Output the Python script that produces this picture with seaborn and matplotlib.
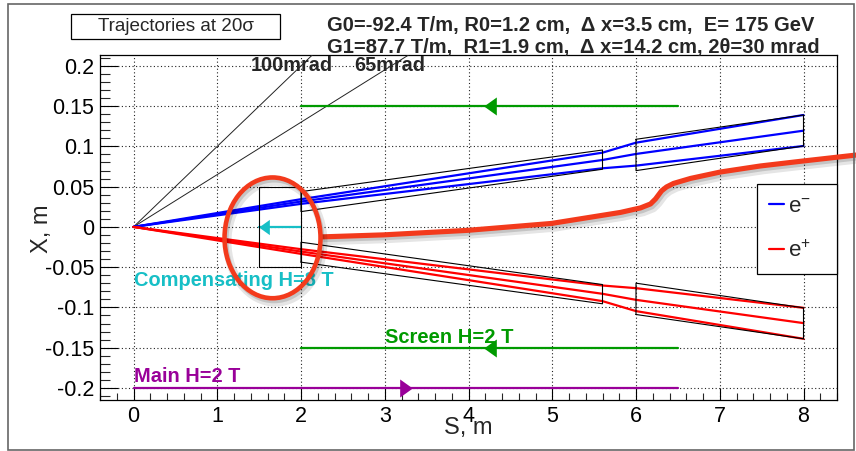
import numpy as np
import pandas as pd
import matplotlib
matplotlib.use("Agg")
import matplotlib.pyplot as plt
import seaborn as sns
import matplotlib.patheffects as pe
from matplotlib.patches import Ellipse, Rectangle
from matplotlib.lines import Line2D
from matplotlib.ticker import MultipleLocator, FuncFormatter

# ---------------- data ----------------
s_nodes = [0.0, 2.0, 5.6, 6.0, 8.0]          # S (m) where trajectories were read
em_upper = [0.0, 0.0344, 0.0922, 0.1046, 0.139]
em_mid = [0.0, 0.0315, 0.0831, 0.0906, 0.1195]
em_lower = [0.0, 0.0286, 0.0728, 0.0761, 0.1005]
ep_upper = [0.0, -0.0277, -0.0728, -0.0761, -0.1005]
ep_mid = [0.0, -0.0306, -0.0831, -0.0906, -0.1195]
ep_lower = [0.0, -0.0335, -0.0922, -0.1046, -0.139]

# magnet outlines (S, X corners)
comp_s = [1.5, 2.0, 2.0, 1.5, 1.5]
comp_x = [0.05, 0.05, -0.05, -0.05, 0.05]
q1u_s = [2.0, 5.6, 5.6, 2.0, 2.0]
q1u_x = [0.0438, 0.0955, 0.0716, 0.019, 0.0438]
q2u_s = [6.0, 8.0, 8.0, 6.0, 6.0]
q2u_x = [0.1088, 0.139, 0.1005, 0.0699, 0.1088]
q1d_s = [2.0, 5.6, 5.6, 2.0, 2.0]
q1d_x = [-0.0438, -0.0955, -0.0716, -0.019, -0.0438]
q2d_s = [6.0, 8.0, 8.0, 6.0, 6.0]
q2d_x = [-0.1088, -0.139, -0.1005, -0.0699, -0.1088]

# angle reference lines (slopes in rad)
angle_slopes = [0.100, 0.065]
angle_labels = ["100mrad", "65mrad"]
angle_label_s = [1.40, 2.64]

# field regions: (s_start, s_end, x, arrow_s, direction)
screen_top = (2.0, 6.5, 0.15, 4.26, "left")
screen_bot = (2.0, 6.5, -0.15, 4.26, "left")
main_field = (0.0, 6.5, -0.20, 3.25, "right")
comp_field = (2.0, 1.5, 0.0, 1.56, "left")

# highlight annotation (hand-drawn overlay)
hl_s = [2.245, 2.985, 3.988, 4.991, 5.815, 6.054, 6.173, 6.233, 6.269, 6.305,
        6.364, 6.448, 6.651, 7.009, 7.487, 8.0, 8.633]
hl_x = [-0.0124, -0.0099, -0.0043, 0.0043, 0.0180, 0.0236, 0.0285, 0.0347,
        0.0397, 0.0447, 0.0496, 0.0540, 0.0602, 0.0682, 0.0757, 0.0819, 0.0893]
ell_center = (1.66, -0.0136)
ell_w, ell_h = 1.146, 0.150

# ---------------- styling ----------------
sns.set_theme(style="white")
plt.rcParams["font.family"] = ["Liberation Sans", "DejaVu Sans"]
plt.rcParams["mathtext.fontset"] = "custom"
plt.rcParams["mathtext.rm"] = "Liberation Sans"
plt.rcParams["axes.unicode_minus"] = False

BLUE = "#0000ff"
RED = "#ff0000"
GREEN = "#009a00"
PURPLE = "#990099"
CYAN = "#17bfc6"
HL = "#f33a1c"

W, H = 856, 451
fig = plt.figure(figsize=(W / 100, H / 100), dpi=100)
ax = fig.add_axes([100 / W, 1 - 400 / H, 737 / W, 345 / H])
ax.set_xlim(-0.4, 8.4)
ax.set_ylim(-0.215, 0.2135)

# grid
ax.grid(True, which="major", color="#222222", linestyle=(0, (1, 2.2)), linewidth=0.8)
ax.set_axisbelow(True)

# trajectories via seaborn
rows = []
tracks = {"e-": [em_upper, em_mid, em_lower], "e+": [ep_upper, ep_mid, ep_lower]}
for p, lst in tracks.items():
    for i, xs in enumerate(lst):
        for s, x in zip(s_nodes, xs):
            rows.append({"particle": p, "track": f"{p}{i}", "S": s, "X": x})
df = pd.DataFrame(rows)
sns.lineplot(data=df, x="S", y="X", hue="particle", units="track", estimator=None,
             sort=False, palette={"e-": BLUE, "e+": RED}, linewidth=1.6,
             legend=False, ax=ax, zorder=4)

# magnet outlines
for bs, bx in [(comp_s, comp_x), (q1u_s, q1u_x), (q2u_s, q2u_x), (q1d_s, q1d_x), (q2d_s, q2d_x)]:
    ax.plot(bs, bx, color="black", lw=0.8, zorder=5)

# angle lines
for slope, lab, ls in zip(angle_slopes, angle_labels, angle_label_s):
    ss = np.array([0.0, 4.0])
    ax.plot(ss, slope * ss, color="#222222", lw=0.7, zorder=3)
    ax.text(ls, 0.2, lab, fontsize=14.3, fontweight="bold", ha="left", va="center", zorder=6)

# field lines with arrowheads
left_head = [(-0.35, 0), (0.35, 0.5), (0.35, -0.5), (-0.35, 0)]
right_head = [(0.35, 0), (-0.35, 0.5), (-0.35, -0.5), (0.35, 0)]
for (s0, s1, x0, sa, d), col, ms in [(screen_top, GREEN, 13), (screen_bot, GREEN, 13),
                                   (main_field, PURPLE, 13), (comp_field, CYAN, 11)]:
    ax.plot([s0, s1], [x0, x0], color=col, lw=1.6, zorder=4)
    ax.plot([sa], [x0], marker=left_head if d == "left" else right_head,
            color=col, markersize=ms, markeredgewidth=0, linestyle="none", zorder=4)

ax.text(0.0, -0.066, "Compensating H=8 T", color=CYAN, fontsize=14.4,
        fontweight="bold", ha="left", va="center", zorder=6)
ax.text(3.0, -0.137, "Screen H=2 T", color=GREEN, fontsize=14.5,
        fontweight="bold", ha="left", va="center", zorder=6)
ax.text(0.0, -0.186, "Main H=2 T", color=PURPLE, fontsize=14.4,
        fontweight="bold", ha="left", va="center", zorder=6)

# axes / ticks
ax.xaxis.set_major_locator(MultipleLocator(1))
ax.xaxis.set_minor_locator(MultipleLocator(0.2))
ax.yaxis.set_major_locator(MultipleLocator(0.05))
ax.yaxis.set_minor_locator(MultipleLocator(0.01))
ax.xaxis.set_major_formatter(FuncFormatter(lambda v, p: f"{v:g}"))
ax.yaxis.set_major_formatter(FuncFormatter(lambda v, p: f"{round(v, 3):g}"))
ax.tick_params(axis="y", which="major", direction="in", length=13, width=0.8,
               labelsize=15.5, pad=4, left=True, right=False, colors="black")
ax.tick_params(axis="y", which="minor", direction="in", length=7, width=0.8, left=True, right=False)
ax.tick_params(axis="x", which="major", direction="in", length=8.6, width=0.8,
               labelsize=15.5, pad=4, bottom=True, top=False, colors="black")
ax.tick_params(axis="x", which="minor", direction="in", length=5, width=0.8, bottom=True, top=False)
for sp in ax.spines.values():
    sp.set_color("black")
    sp.set_linewidth(0.9)

ax.set_xlabel("S, m", fontsize=17, va="center")
ax.xaxis.set_label_coords(0.5, -0.08)
ax.set_ylabel("X, m", fontsize=17, va="center")
ax.yaxis.set_label_coords(-0.079, 0.496)

# legend
handles = [Line2D([], [], color=BLUE, lw=1.6), Line2D([], [], color=RED, lw=1.6)]
leg = ax.legend(handles, [r"$\mathrm{e}^{-}$", r"$\mathrm{e}^{+}$"], loc="upper left",
                bbox_to_anchor=(0.891, 0.626, 0.109, 0.0), mode="expand",
                fontsize=16, handlelength=0.7, handletextpad=0.15, borderaxespad=0,
                borderpad=0.55, labelspacing=1.05, frameon=True, fancybox=False,
                edgecolor="black", framealpha=1)
leg.get_frame().set_linewidth(0.9)
leg.set_zorder(7)

# highlight overlay
def shadow_fx():
    return [pe.SimpleLineShadow(offset=(2.0, -3.0), shadow_color="black", alpha=0.10, linewidth=6),
            pe.SimpleLineShadow(offset=(1.2, -2.0), shadow_color="black", alpha=0.14),
            pe.Normal()]

ax.plot(hl_s, hl_x, color=HL, lw=3.7, solid_capstyle="butt", solid_joinstyle="round",
        clip_on=False, zorder=10, path_effects=shadow_fx())
ell = Ellipse(ell_center, ell_w, ell_h, fill=False, edgecolor=HL, lw=3.3, zorder=10,
              clip_on=False, path_effects=shadow_fx())
ax.add_patch(ell)

# header texts
fig.add_artist(Rectangle((71 / W, 1 - 39 / H), 209 / W, 25 / H, transform=fig.transFigure,
                         fill=False, edgecolor="black", lw=0.9))
fig.text(175.5 / W, 1 - 26.5 / H, "Trajectories at 20σ", fontsize=13.6, ha="center", va="center")
fig.text(327 / W, 1 - 25 / H, "G0=-92.4 T/m, R0=1.2 cm,  Δ x=3.5 cm,  E= 175 GeV",
         fontsize=14.5, fontweight="bold", ha="left", va="center")
fig.text(327 / W, 1 - 47 / H, "G1=87.7 T/m,  R1=1.9 cm,  Δ x=14.2 cm, 2θ=30 mrad",
         fontsize=14.5, fontweight="bold", ha="left", va="center")

# canvas frame
fig.add_artist(Rectangle((8 / W, 1 - 450 / H), 846 / W, 446 / H, transform=fig.transFigure,
                         fill=False, edgecolor="#666666", lw=1.2))

fig.savefig("out.png", dpi=100)
